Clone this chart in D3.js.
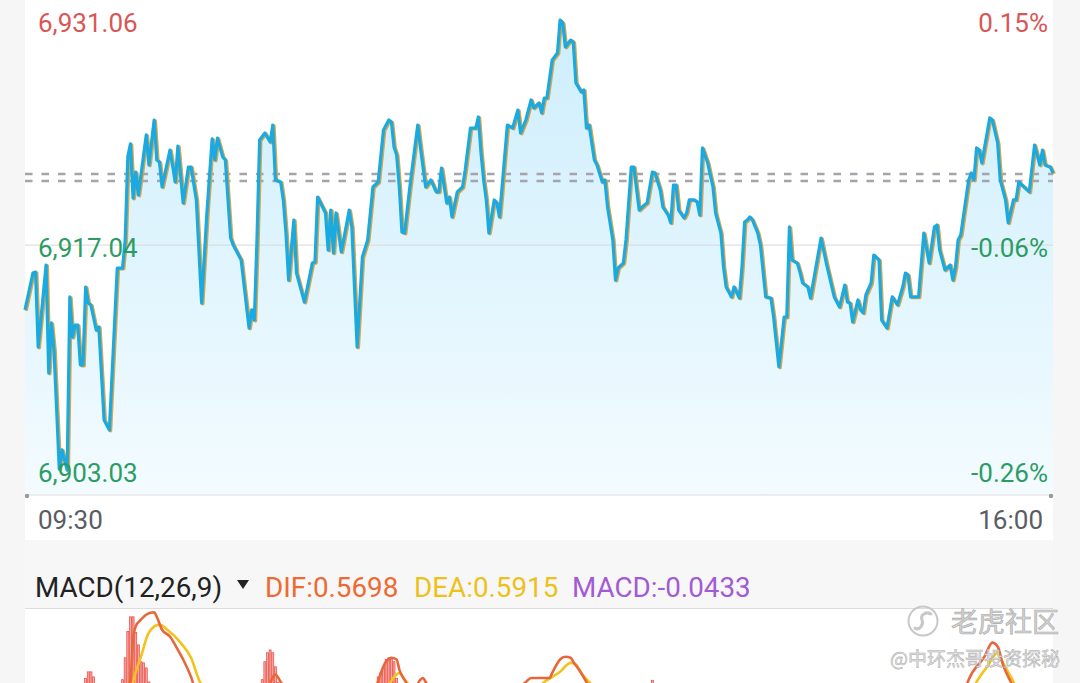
<!DOCTYPE html>
<html><head><meta charset="utf-8">
<script src="https://cdn.jsdelivr.net/npm/d3@7"></script>
<style>
html,body{margin:0;padding:0;background:#f6f6f6;}
svg{display:block;font-family:Roboto,"Noto Sans",sans-serif;}
</style></head>
<body>
<svg id="c" width="1080" height="683"></svg>
<script>
// ---------- data ----------
const priceMinutes = [0,3,4,5,6,8,9,10,11,13,14,15,16,17,18,19,20,21,22,23,24,25,27,28,30,32,35,37,38,39,40,41,42,43,46,47,49,50,51,52,55,57,58,60,62,63,65,67,69,71,72,73,75,76,78,79,82,85,86,87,88,89,91,93,94,95,97,98,99,100,102,103,106,109,110,111,114,115,116,117,118,120,123,124,126,128,130,132,134,136,138,139,140,141,142,143,144,146,149,150,152,154,156,157,158,160,161,162,164,166,167,169,171,172,173,174,175,176,178,179,180,181,183,185,187,188,190,192,193,195,196,197,198,200,202,203,204,205,207,208,209,211,212,213,214,216,217,219,220,221,223,224,225,227,228,230,231,233,235,236,238,239,241,242,244,245,246,247,248,250,251,252,254,255,256,257,259,261,262,264,265,266,268,269,271,272,273,274,275,276,278,279,281,283,284,286,288,289,290,291,293,294,295,297,298,302,304,307,308,309,311,312,313,314,316,317,318,319,321,322,324,325,327,329,331,333,334,335,336,339,341,343,345,346,347,349,351,352,353,354,355,358,359,360,361,362,363,365,366,367,369,370,372,373,375,376,377,379,381,383,385,386,387,389,390];
const priceValues = [6913.00,6915.30,6915.36,6910.69,6912.37,6915.80,6909.07,6912.19,6910.50,6903.10,6904.28,6903.65,6903.03,6913.81,6911.31,6912.06,6912.06,6909.57,6909.57,6914.43,6913.43,6913.31,6911.75,6911.94,6906.14,6905.52,6915.61,6915.61,6917.36,6922.54,6923.34,6919.97,6921.59,6920.16,6923.90,6922.03,6924.83,6922.34,6922.21,6920.66,6922.96,6920.97,6923.21,6919.66,6921.90,6921.90,6919.85,6913.43,6919.04,6923.65,6922.34,6923.71,6922.53,6922.34,6917.48,6917.04,6916.11,6911.87,6913.00,6912.37,6917.36,6923.59,6924.02,6923.46,6924.52,6921.09,6920.97,6919.85,6917.79,6914.86,6918.60,6915.30,6913.49,6915.92,6915.98,6920.03,6919.04,6916.73,6919.22,6916.55,6919.04,6916.61,6919.22,6918.17,6910.69,6916.30,6917.36,6920.66,6920.97,6924.21,6924.83,6924.71,6923.15,6922.65,6920.66,6917.85,6917.79,6920.66,6924.52,6923.15,6920.66,6921.09,6920.35,6920.35,6921.84,6919.66,6920.03,6918.79,6920.35,6920.66,6921.72,6924.33,6924.33,6925.02,6922.78,6921.09,6919.85,6917.79,6919.85,6919.66,6918.79,6920.66,6924.52,6924.33,6925.45,6924.02,6924.83,6926.08,6925.58,6925.89,6925.27,6926.20,6926.20,6928.57,6929.00,6931.06,6930.87,6929.38,6929.81,6929.69,6927.14,6926.58,6926.70,6924.33,6924.52,6922.34,6922.03,6920.97,6921.09,6919.41,6917.36,6914.86,6915.61,6915.92,6917.36,6921.90,6921.90,6919.22,6919.54,6919.66,6921.59,6921.53,6920.47,6919.41,6918.91,6918.42,6920.78,6920.78,6919.22,6918.73,6919.04,6919.85,6919.85,6919.72,6918.91,6923.09,6922.15,6920.66,6919.04,6917.79,6915.67,6914.43,6913.81,6914.43,6913.74,6915.67,6918.48,6918.60,6918.79,6918.60,6917.79,6917.04,6913.81,6913.74,6912.56,6909.45,6912.56,6912.56,6918.17,6916.11,6915.92,6915.36,6914.68,6914.43,6913.74,6917.48,6915.92,6913.81,6913.49,6913.18,6914.55,6913.49,6913.43,6912.25,6913.62,6913.00,6912.81,6913.93,6914.68,6916.42,6916.11,6912.37,6911.87,6913.81,6913.31,6914.43,6915.30,6915.18,6913.81,6913.81,6917.79,6915.92,6918.17,6918.29,6916.73,6915.49,6915.80,6914.86,6915.67,6917.36,6917.67,6921.09,6921.53,6921.09,6923.09,6922.96,6922.15,6924.02,6924.96,6924.83,6923.40,6921.09,6919.85,6918.42,6919.85,6919.85,6920.97,6920.66,6920.35,6923.27,6922.03,6922.96,6922.03,6921.90,6921.53];

const priceLabels = ["6,931.06","6,917.04","6,903.03"];
const priceTicks  = [6931.06, 6917.04, 6903.03];
const pctLabels   = ["0.15%","-0.06%","-0.26%"];
const refLines    = [6921.47, 6921.03];
const timeLabels  = ["09:30","16:00"];
const timeTicks   = [0, 390];

const difMinutes = [0,35,40,41,42,44,46,49,50,52,55,58,60,63,66,80,92,94,95,97,105,130,137,139,141,142,144,147,150,151,152,156,180,190,192,195,199,200,203,205,207,208,211,213,218,240,300,350,355,358,364,367,369,371,374,380,390];
const difValues  = [0,0.90,1.43,2.14,2.38,2.50,2.59,2.63,2.55,2.32,2.20,1.96,1.79,1.48,1.07,0.90,1.25,1.48,1.52,1.39,0.90,1.00,1.75,1.82,1.79,1.61,1.43,1.20,1.43,1.46,1.39,1.10,1.00,1.39,1.46,1.46,1.46,1.55,1.79,1.84,1.82,1.75,1.55,1.39,1.10,0.60,0.30,0.50,1.00,1.43,1.84,2.09,2.02,1.70,1.39,0.90,0.57];
const deaMinutes = [0,38,41,44,47,51,54,59,63,66,72,100,135,140,142,144,150,190,197,203,207,209,211,214,222,280,355,361,365,369,370,374,375,383,390];
const deaValues  = [0,0.50,1.39,1.84,2.27,2.41,2.32,2.09,1.82,1.43,1.10,1.00,1.10,1.48,1.55,1.43,1.20,1.10,1.39,1.57,1.73,1.70,1.55,1.39,1.10,0.50,0.80,1.39,1.66,1.91,1.82,1.48,1.39,0.90,0.59];
const barMinutes = [23,24,25,26,37,38,39,40,41,42,43,44,45,46,47,48,90,91,92,93,94,95,96,134,135,136,137,138,139,140,141,238];
const barValues  = [1.45,1.57,1.57,1.48,1.43,1.82,2.29,2.55,2.55,2.27,2.05,1.75,1.73,1.64,1.39,1.30,1.43,1.75,1.91,1.96,1.91,1.66,1.38,1.48,1.55,1.66,1.79,1.82,1.80,1.75,1.45,1.42];
const macdHeader = {name:"MACD(12,26,9)", dif:"DIF:0.5698", dea:"DEA:0.5915", macd:"MACD:-0.0433"};

// ---------- layout ----------
const svg = d3.select("#c");
const L = 25, R = 1053;
const x = d3.scaleLinear().domain([0,390]).range([L,R]);
const y = d3.scaleLinear().domain([6903.03,6931.06]).range([470,20]);
const plotBottom = 495;

// backgrounds
svg.append("rect").attr("x",0).attr("y",0).attr("width",1080).attr("height",683).attr("fill","#f6f6f6");
svg.append("rect").attr("x",L).attr("y",0).attr("width",R-L).attr("height",540).attr("fill","#ffffff");
svg.append("rect").attr("x",L).attr("y",540).attr("width",R-L).attr("height",68).attr("fill","#f7f7f7");
svg.append("rect").attr("x",L).attr("y",609).attr("width",R-L).attr("height",80).attr("fill","#ffffff");
svg.append("line").attr("x1",L).attr("x2",R).attr("y1",608.5).attr("y2",608.5).attr("stroke","#dcdcdc").attr("stroke-width",1);

const defs = svg.append("defs");
const g = defs.append("linearGradient").attr("id","ag").attr("x1",0).attr("x2",0).attr("y1",0).attr("y2",1);
g.append("stop").attr("offset","0%").attr("stop-color","#cdeefc");
g.append("stop").attr("offset","100%").attr("stop-color","#f3fbff");
defs.append("clipPath").attr("id","mclip").append("rect").attr("x",L).attr("y",609).attr("width",R-L).attr("height",80);

const pts = priceMinutes.map((m,i)=>[m,priceValues[i]]);

// area
svg.append("path").datum(pts)
  .attr("d", d3.area().x(d=>x(d[0])).y0(plotBottom).y1(d=>y(d[1])))
  .attr("fill","url(#ag)");

// mid grid line
svg.append("line").attr("x1",L).attr("x2",R).attr("y1",y(priceTicks[1])).attr("y2",y(priceTicks[1]))
  .attr("stroke","#d8d8d8").attr("stroke-width",1);

// reference dashed lines
refLines.forEach(v=>{
  svg.append("line").attr("x1",L).attr("x2",R).attr("y1",y(v)).attr("y2",y(v))
    .attr("stroke","#a4a4ac").attr("stroke-width",2.4).attr("stroke-dasharray","7.5,9");
});

// bottom axis
svg.append("line").attr("x1",L).attr("x2",R).attr("y1",plotBottom).attr("y2",plotBottom).attr("stroke","#dedede").attr("stroke-width",1.2);
timeTicks.forEach(t=>{
  svg.append("circle").attr("cx",Math.min(Math.max(x(t),L+2),R-2)).attr("cy",plotBottom+1).attr("r",2.2).attr("fill","#999");
});

// price line with shadow
const line = d3.line().x(d=>x(d[0])).y(d=>y(d[1]));
svg.append("path").datum(pts).attr("d",line).attr("fill","none")
  .attr("stroke","#d9a548").attr("stroke-width",3.2).attr("stroke-linejoin","round")
  .attr("transform","translate(1.3,0.8)");
svg.append("path").datum(pts).attr("d",line).attr("fill","none")
  .attr("stroke","#1aaae2").attr("stroke-width",3.2).attr("stroke-linejoin","round");

// labels
const fs = 26;
priceLabels.forEach((t,i)=>{
  svg.append("text").attr("x",38).attr("y",y(priceTicks[i])+3).attr("dy","0.36em")
    .attr("font-size",fs).attr("fill", i===0?"#d85656":"#2c9c62").text(t);
  svg.append("text").attr("x",1048).attr("y",y(priceTicks[i])+3).attr("dy","0.36em").attr("text-anchor","end")
    .attr("font-size",fs).attr("fill", i===0?"#d85656":"#2c9c62").text(pctLabels[i]);
});
svg.append("text").attr("x",38).attr("y",529).attr("font-size",fs).attr("fill","#595d63").text(timeLabels[0]);
svg.append("text").attr("x",1043).attr("y",529).attr("font-size",fs).attr("fill","#595d63").attr("text-anchor","end").text(timeLabels[1]);

// MACD header
const hy = 597, hfs = 27.8;
svg.append("text").attr("x",35).attr("y",hy).attr("font-size",hfs).attr("fill","#222").text(macdHeader.name);
svg.append("path").attr("d","M237,580 L249,580 L243,589 Z").attr("fill","#222");
svg.append("text").attr("x",265).attr("y",hy).attr("font-size",hfs).attr("fill","#ee6a32").text(macdHeader.dif);
svg.append("text").attr("x",414).attr("y",hy).attr("font-size",hfs).attr("fill","#eec11a").text(macdHeader.dea);
svg.append("text").attr("x",572).attr("y",hy).attr("font-size",hfs).attr("fill","#a35bd4").text(macdHeader.macd);

// MACD chart
const my = d3.scaleLinear().domain([0,2.6]).range([760,614]);
const mg = svg.append("g").attr("clip-path","url(#mclip)");
mg.selectAll("rect.bar").data(barMinutes.map((m,i)=>[m,barValues[i]])).enter().append("rect")
  .attr("x",d=>x(d[0])-1).attr("width",2).attr("y",d=>my(d[1])).attr("height",d=>my(0)-my(d[1]))
  .attr("fill","#f6aaa6").attr("stroke","#e8473e").attr("stroke-width",0.7);
const ml = d3.line().x(d=>x(d[0])).y(d=>my(d[1])).curve(d3.curveMonotoneX);
mg.append("path").datum(deaMinutes.map((m,i)=>[m,deaValues[i]])).attr("d",ml).attr("fill","none").attr("stroke","#f1c31b").attr("stroke-width",2.6);
mg.append("path").datum(difMinutes.map((m,i)=>[m,difValues[i]])).attr("d",ml).attr("fill","none").attr("stroke","#e8673a").attr("stroke-width",2.6);

// watermark
const wm = svg.append("g");
wm.append("circle").attr("cx",923).attr("cy",621).attr("r",14.5).attr("fill","none").attr("stroke","#c8c8c8").attr("stroke-width",2);
wm.append("path").attr("d","M915,628 C919,631 924,625 922,620 C920,615 926,611 931,614").attr("fill","none").attr("stroke","#c8c8c8").attr("stroke-width",3).attr("stroke-linecap","round");
wm.append("text").attr("x",1059).attr("y",632).attr("text-anchor","end").attr("font-family","'Noto Sans CJK SC'")
  .attr("font-size",27).attr("fill","#d2d2d2").attr("stroke","#aaaaaa").attr("stroke-width",0.6).text("老虎社区");
wm.append("text").attr("x",1060).attr("y",666).attr("text-anchor","end").attr("font-family","'Noto Sans CJK SC'")
  .attr("font-size",19).attr("fill","#e4e4e4").attr("stroke","#aaaaaa").attr("stroke-width",0.5).text("@中环杰哥投资探秘");
</script>
</body></html>
